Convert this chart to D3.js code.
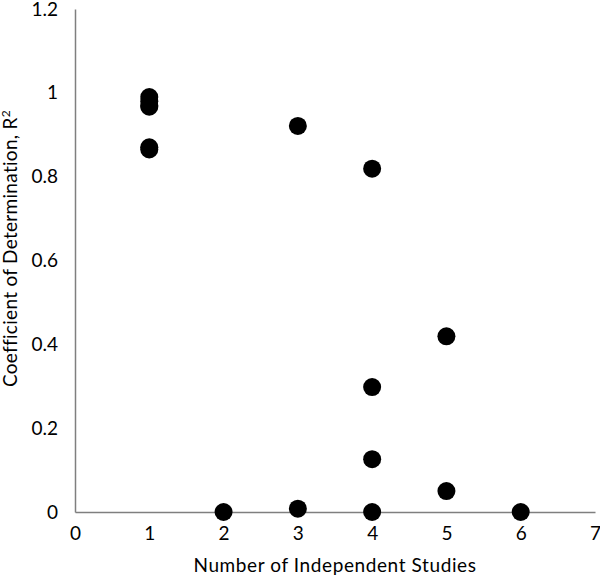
<!DOCTYPE html>
<html>
<head>
<meta charset="utf-8">
<script src="https://cdn.jsdelivr.net/npm/d3@7"></script>
<style>
  body { margin: 0; background: #fff; overflow: hidden; }
  svg { display: block; }
  text { font-family: Lato, "Open Sans", sans-serif; fill: #000; }
</style>
</head>
<body>
<div id="chart"></div>
<script>
// data
const studies = [1, 1, 1, 1, 1, 1, 2, 3, 3, 4, 4, 4, 4, 5, 5, 6];
const rSquared = [0.99, 0.98, 0.97, 0.967, 0.87, 0.865, 0, 0.921, 0.008, 0.819, 0.298, 0.126, 0, 0.419, 0.05, 0];
const xTicks = [0, 1, 2, 3, 4, 5, 6, 7];
const yTicks = [0, 0.2, 0.4, 0.6, 0.8, 1, 1.2];
const xTitle = "Number of Independent Studies";
const yTitle = "Coefficient of Determination, R";

const width = 600, height = 581;
const margin = { top: 9, right: 5, bottom: 69, left: 75 };
const innerWidth = width - margin.left - margin.right;
const innerHeight = height - margin.top - margin.bottom;

const svg = d3.select("#chart").append("svg")
  .attr("width", width)
  .attr("height", height);

const g = svg.append("g")
  .attr("transform", `translate(${margin.left},${margin.top})`);

const x = d3.scaleLinear().domain([0, 7]).range([0, innerWidth]);
const y = d3.scaleLinear().domain([0, 1.2]).range([innerHeight, 0]);

// x axis
const xAxis = g.append("g")
  .attr("transform", `translate(0,${innerHeight})`)
  .call(d3.axisBottom(x).tickValues(xTicks).tickSize(0).tickPadding(15).tickFormat(d3.format("d")));
xAxis.select(".domain").attr("stroke", "#7f7f7f").attr("stroke-width", 1.5);
xAxis.selectAll("text").style("font-size", "19px");

// y axis
const yAxis = g.append("g")
  .call(d3.axisLeft(y).tickValues(yTicks).tickSize(0).tickPadding(17).tickFormat(d => d));
yAxis.select(".domain").attr("stroke", "#7f7f7f").attr("stroke-width", 1.5);
yAxis.selectAll("text").style("font-size", "19px");

// points
g.selectAll("circle")
  .data(studies.map((s, i) => ({ s, r: rSquared[i] })))
  .join("circle")
  .attr("cx", d => x(d.s))
  .attr("cy", d => y(d.r))
  .attr("r", 9)
  .attr("fill", "#000");

// axis titles
svg.append("text")
  .attr("x", margin.left + innerWidth / 2)
  .attr("y", 572)
  .attr("text-anchor", "middle")
  .style("font-size", "19px")
  .style("letter-spacing", "0.6px")
  .text(xTitle);

const yt = svg.append("text")
  .attr("transform", `translate(17,${margin.top + innerHeight / 2 - 12}) rotate(-90)`)
  .attr("text-anchor", "middle")
  .style("font-size", "19px")
  .style("letter-spacing", "0.3px");
yt.append("tspan").text(yTitle);
yt.append("tspan").attr("dy", -7).style("font-size", "12px").text("2");
</script>
</body>
</html>
